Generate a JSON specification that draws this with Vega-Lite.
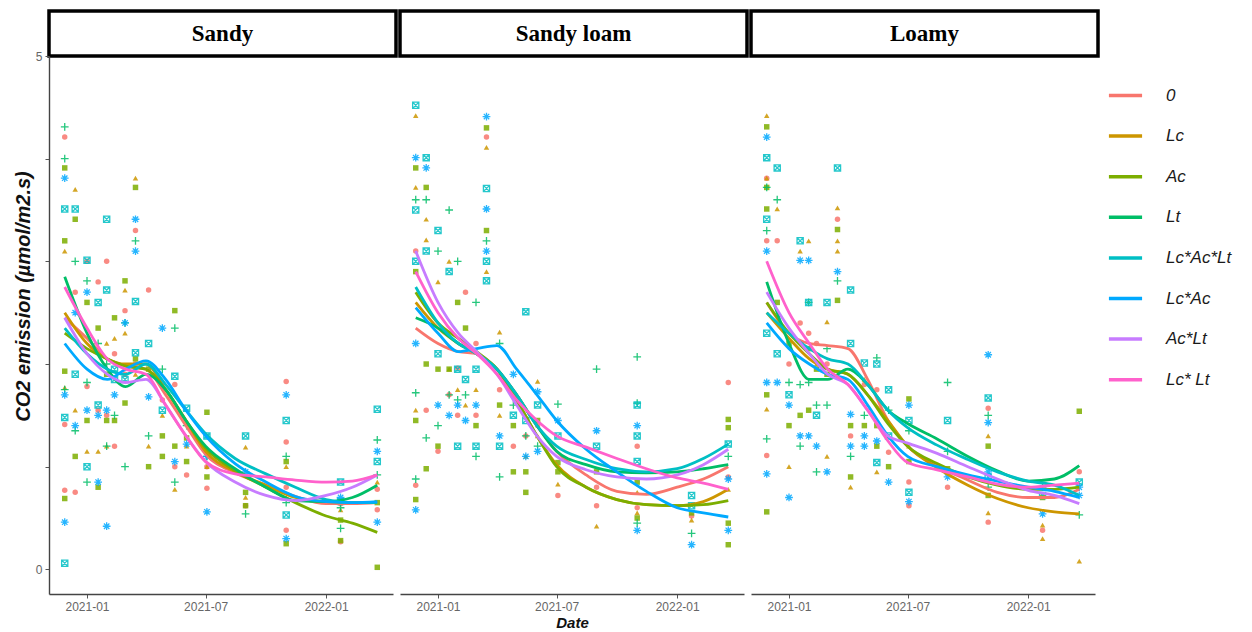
{
"$schema":"https://vega.github.io/schema/vega-lite/v6.json",
"background":"white",
"padding":{"top":9,"left":13,"right":4,"bottom":2},
"datasets":{
"pts":[
{"s":"S","t":"0","d":"2020-11-28","v":4.21},{"s":"S","t":"0","d":"2020-11-28","v":1.41},{"s":"S","t":"0","d":"2020-11-28","v":0.77},{"s":"S","t":"Lc","d":"2020-11-28","v":3.1},{"s":"S","t":"Lc","d":"2020-11-28","v":1.77},{"s":"S","t":"Ac","d":"2020-11-28","v":3.91},{"s":"S","t":"Ac","d":"2020-11-28","v":3.2},{"s":"S","t":"Ac","d":"2020-11-28","v":1.93},{"s":"S","t":"Ac","d":"2020-11-28","v":0.69},{"s":"S","t":"Lt","d":"2020-11-28","v":4.31},{"s":"S","t":"Lt","d":"2020-11-28","v":4.0},{"s":"S","t":"Lt","d":"2020-11-28","v":1.75},{"s":"S","t":"Lc*Ac*Lt","d":"2020-11-28","v":3.51},{"s":"S","t":"Lc*Ac*Lt","d":"2020-11-28","v":1.48},{"s":"S","t":"Lc*Ac*Lt","d":"2020-11-28","v":0.06},{"s":"S","t":"Lc*Ac","d":"2020-11-28","v":3.81},{"s":"S","t":"Lc*Ac","d":"2020-11-28","v":1.7},{"s":"S","t":"Lc*Ac","d":"2020-11-28","v":0.46},
{"s":"S","t":"0","d":"2020-12-14","v":2.7},{"s":"S","t":"0","d":"2020-12-14","v":0.75},{"s":"S","t":"Lc","d":"2020-12-14","v":3.7},{"s":"S","t":"Lc","d":"2020-12-14","v":1.55},{"s":"S","t":"Ac","d":"2020-12-14","v":3.41},{"s":"S","t":"Ac","d":"2020-12-14","v":1.1},{"s":"S","t":"Lt","d":"2020-12-14","v":3.0},{"s":"S","t":"Lt","d":"2020-12-14","v":1.35},{"s":"S","t":"Lc*Ac*Lt","d":"2020-12-14","v":3.51},{"s":"S","t":"Lc*Ac*Lt","d":"2020-12-14","v":1.9},{"s":"S","t":"Lc*Ac","d":"2020-12-14","v":2.5},{"s":"S","t":"Lc*Ac","d":"2020-12-14","v":1.4},
{"s":"S","t":"0","d":"2021-01-01","v":3.0},{"s":"S","t":"0","d":"2021-01-01","v":1.78},{"s":"S","t":"Lc","d":"2021-01-01","v":1.15},{"s":"S","t":"Ac","d":"2021-01-01","v":2.6},{"s":"S","t":"Ac","d":"2021-01-01","v":1.45},{"s":"S","t":"Lt","d":"2021-01-01","v":2.81},{"s":"S","t":"Lt","d":"2021-01-01","v":1.82},{"s":"S","t":"Lt","d":"2021-01-01","v":0.85},{"s":"S","t":"Lc*Ac*Lt","d":"2021-01-01","v":3.01},{"s":"S","t":"Lc*Ac*Lt","d":"2021-01-01","v":1.0},{"s":"S","t":"Lc*Ac","d":"2021-01-01","v":2.7},{"s":"S","t":"Lc*Ac","d":"2021-01-01","v":1.55},
{"s":"S","t":"0","d":"2021-01-18","v":2.8},{"s":"S","t":"0","d":"2021-01-18","v":1.55},{"s":"S","t":"Lc","d":"2021-01-18","v":1.15},{"s":"S","t":"Ac","d":"2021-01-18","v":2.35},{"s":"S","t":"Ac","d":"2021-01-18","v":0.8},{"s":"S","t":"Lt","d":"2021-01-18","v":2.2},{"s":"S","t":"Lc*Ac*Lt","d":"2021-01-18","v":2.6},{"s":"S","t":"Lc*Ac*Lt","d":"2021-01-18","v":1.6},{"s":"S","t":"Lc*Ac","d":"2021-01-18","v":1.5},{"s":"S","t":"Lc*Ac","d":"2021-01-18","v":0.85},
{"s":"S","t":"0","d":"2021-01-31","v":3.0},{"s":"S","t":"0","d":"2021-01-31","v":1.5},{"s":"S","t":"Lc","d":"2021-01-31","v":2.2},{"s":"S","t":"Lc","d":"2021-01-31","v":1.2},{"s":"S","t":"Ac","d":"2021-01-31","v":1.9},{"s":"S","t":"Ac","d":"2021-01-31","v":1.45},{"s":"S","t":"Lt","d":"2021-01-31","v":2.0},{"s":"S","t":"Lt","d":"2021-01-31","v":1.2},{"s":"S","t":"Lc*Ac*Lt","d":"2021-01-31","v":3.41},{"s":"S","t":"Lc*Ac*Lt","d":"2021-01-31","v":2.72},{"s":"S","t":"Lc*Ac","d":"2021-01-31","v":1.55},{"s":"S","t":"Lc*Ac","d":"2021-01-31","v":0.42},
{"s":"S","t":"0","d":"2021-02-12","v":2.1},{"s":"S","t":"0","d":"2021-02-12","v":1.2},{"s":"S","t":"Lc","d":"2021-02-12","v":2.25},{"s":"S","t":"Ac","d":"2021-02-12","v":2.45},{"s":"S","t":"Ac","d":"2021-02-12","v":1.45},{"s":"S","t":"Lt","d":"2021-02-12","v":1.5},{"s":"S","t":"Lc*Ac*Lt","d":"2021-02-12","v":1.95},{"s":"S","t":"Lc*Ac*Lt","d":"2021-02-12","v":1.85},{"s":"S","t":"Lc*Ac","d":"2021-02-12","v":1.7},
{"s":"S","t":"0","d":"2021-02-28","v":2.52},{"s":"S","t":"0","d":"2021-02-28","v":1.9},{"s":"S","t":"Lc","d":"2021-02-28","v":2.72},{"s":"S","t":"Lc","d":"2021-02-28","v":2.3},{"s":"S","t":"Ac","d":"2021-02-28","v":2.81},{"s":"S","t":"Ac","d":"2021-02-28","v":1.62},{"s":"S","t":"Lt","d":"2021-02-28","v":2.4},{"s":"S","t":"Lt","d":"2021-02-28","v":1.0},{"s":"S","t":"Lc*Ac*Lt","d":"2021-02-28","v":1.85},{"s":"S","t":"Lc*Ac","d":"2021-02-28","v":2.4},
{"s":"S","t":"0","d":"2021-03-16","v":3.3},{"s":"S","t":"0","d":"2021-03-16","v":2.0},{"s":"S","t":"Lc","d":"2021-03-16","v":3.81},{"s":"S","t":"Lc","d":"2021-03-16","v":1.9},{"s":"S","t":"Ac","d":"2021-03-16","v":3.72},{"s":"S","t":"Ac","d":"2021-03-16","v":2.05},{"s":"S","t":"Lt","d":"2021-03-16","v":3.2},{"s":"S","t":"Lc*Ac*Lt","d":"2021-03-16","v":2.61},{"s":"S","t":"Lc*Ac*Lt","d":"2021-03-16","v":2.11},{"s":"S","t":"Lc*Ac","d":"2021-03-16","v":3.41},{"s":"S","t":"Lc*Ac","d":"2021-03-16","v":3.1},
{"s":"S","t":"0","d":"2021-04-05","v":2.72},{"s":"S","t":"Lc","d":"2021-04-05","v":1.2},{"s":"S","t":"Ac","d":"2021-04-05","v":1.95},{"s":"S","t":"Ac","d":"2021-04-05","v":1.0},{"s":"S","t":"Lt","d":"2021-04-05","v":1.3},{"s":"S","t":"Lc*Ac*Lt","d":"2021-04-05","v":2.2},{"s":"S","t":"Lc*Ac","d":"2021-04-05","v":1.68},
{"s":"S","t":"0","d":"2021-04-26","v":1.65},{"s":"S","t":"Lc","d":"2021-04-26","v":1.5},{"s":"S","t":"Ac","d":"2021-04-26","v":1.3},{"s":"S","t":"Ac","d":"2021-04-26","v":1.1},{"s":"S","t":"Lt","d":"2021-04-26","v":1.95},{"s":"S","t":"Lc*Ac*Lt","d":"2021-04-26","v":1.55},{"s":"S","t":"Lc*Ac","d":"2021-04-26","v":2.35},
{"s":"S","t":"0","d":"2021-05-15","v":1.8},{"s":"S","t":"0","d":"2021-05-15","v":1.0},{"s":"S","t":"Lc","d":"2021-05-15","v":0.78},{"s":"S","t":"Ac","d":"2021-05-15","v":2.52},{"s":"S","t":"Ac","d":"2021-05-15","v":1.2},{"s":"S","t":"Lt","d":"2021-05-15","v":2.35},{"s":"S","t":"Lt","d":"2021-05-15","v":0.85},{"s":"S","t":"Lc*Ac*Lt","d":"2021-05-15","v":1.88},{"s":"S","t":"Lc*Ac","d":"2021-05-15","v":1.05},
{"s":"S","t":"0","d":"2021-06-02","v":0.92},{"s":"S","t":"Lc","d":"2021-06-02","v":1.2},{"s":"S","t":"Ac","d":"2021-06-02","v":1.28},{"s":"S","t":"Ac","d":"2021-06-02","v":1.05},{"s":"S","t":"Lt","d":"2021-06-02","v":1.4},{"s":"S","t":"Lc*Ac*Lt","d":"2021-06-02","v":1.57},{"s":"S","t":"Lc*Ac","d":"2021-06-02","v":1.22},
{"s":"S","t":"0","d":"2021-07-03","v":0.79},{"s":"S","t":"0","d":"2021-07-03","v":1.0},{"s":"S","t":"Lc","d":"2021-07-03","v":1.0},{"s":"S","t":"Ac","d":"2021-07-03","v":1.53},{"s":"S","t":"Ac","d":"2021-07-03","v":0.9},{"s":"S","t":"Lt","d":"2021-07-03","v":1.1},{"s":"S","t":"Lc*Ac*Lt","d":"2021-07-03","v":1.3},{"s":"S","t":"Lc*Ac","d":"2021-07-03","v":0.56},{"s":"S","t":"Lc*Ac","d":"2021-07-03","v":1.1},
{"s":"S","t":"0","d":"2021-08-31","v":0.62},{"s":"S","t":"Lc","d":"2021-08-31","v":1.19},{"s":"S","t":"Lc","d":"2021-08-31","v":0.7},{"s":"S","t":"Ac","d":"2021-08-31","v":0.75},{"s":"S","t":"Ac","d":"2021-08-31","v":0.62},{"s":"S","t":"Lt","d":"2021-08-31","v":0.54},{"s":"S","t":"Lc*Ac*Lt","d":"2021-08-31","v":1.3},{"s":"S","t":"Lc*Ac","d":"2021-08-31","v":0.95},
{"s":"S","t":"0","d":"2021-11-01","v":1.83},{"s":"S","t":"0","d":"2021-11-01","v":1.24},{"s":"S","t":"0","d":"2021-11-01","v":0.8},{"s":"S","t":"0","d":"2021-11-01","v":0.38},{"s":"S","t":"Lc","d":"2021-11-01","v":1.0},{"s":"S","t":"Lc","d":"2021-11-01","v":0.7},{"s":"S","t":"Ac","d":"2021-11-01","v":1.05},{"s":"S","t":"Ac","d":"2021-11-01","v":0.25},{"s":"S","t":"Lt","d":"2021-11-01","v":1.1},{"s":"S","t":"Lt","d":"2021-11-01","v":0.65},{"s":"S","t":"Lc*Ac*Lt","d":"2021-11-01","v":1.45},{"s":"S","t":"Lc*Ac*Lt","d":"2021-11-01","v":0.53},{"s":"S","t":"Lc*Ac","d":"2021-11-01","v":1.7},{"s":"S","t":"Lc*Ac","d":"2021-11-01","v":0.3},
{"s":"S","t":"0","d":"2022-01-23","v":0.64},{"s":"S","t":"0","d":"2022-01-23","v":0.27},{"s":"S","t":"Lc","d":"2022-01-23","v":0.58},{"s":"S","t":"Ac","d":"2022-01-23","v":0.48},{"s":"S","t":"Ac","d":"2022-01-23","v":0.28},{"s":"S","t":"Lt","d":"2022-01-23","v":0.6},{"s":"S","t":"Lt","d":"2022-01-23","v":0.4},{"s":"S","t":"Lc*Ac*Lt","d":"2022-01-23","v":0.85},{"s":"S","t":"Lc*Ac*Lt","d":"2022-01-23","v":0.66},{"s":"S","t":"Lc*Ac","d":"2022-01-23","v":0.7},
{"s":"S","t":"0","d":"2022-03-20","v":0.78},{"s":"S","t":"0","d":"2022-03-20","v":0.58},{"s":"S","t":"Lc","d":"2022-03-20","v":0.85},{"s":"S","t":"Ac","d":"2022-03-20","v":0.65},{"s":"S","t":"Ac","d":"2022-03-20","v":0.02},{"s":"S","t":"Lt","d":"2022-03-20","v":1.26},{"s":"S","t":"Lt","d":"2022-03-20","v":0.92},{"s":"S","t":"Lc*Ac*Lt","d":"2022-03-20","v":1.56},{"s":"S","t":"Lc*Ac*Lt","d":"2022-03-20","v":1.05},{"s":"S","t":"Lc*Ac","d":"2022-03-20","v":1.15},{"s":"S","t":"Lc*Ac","d":"2022-03-20","v":0.46},

{"s":"SL","t":"0","d":"2020-11-28","v":3.1},{"s":"SL","t":"0","d":"2020-11-28","v":0.82},{"s":"SL","t":"Lc","d":"2020-11-28","v":4.42},{"s":"SL","t":"Lc","d":"2020-11-28","v":3.72},{"s":"SL","t":"Lc","d":"2020-11-28","v":1.55},{"s":"SL","t":"Ac","d":"2020-11-28","v":3.91},{"s":"SL","t":"Ac","d":"2020-11-28","v":2.9},{"s":"SL","t":"Ac","d":"2020-11-28","v":1.45},{"s":"SL","t":"Ac","d":"2020-11-28","v":0.68},{"s":"SL","t":"Lt","d":"2020-11-28","v":3.6},{"s":"SL","t":"Lt","d":"2020-11-28","v":1.72},{"s":"SL","t":"Lt","d":"2020-11-28","v":0.88},{"s":"SL","t":"Lc*Ac*Lt","d":"2020-11-28","v":4.52},{"s":"SL","t":"Lc*Ac*Lt","d":"2020-11-28","v":3.5},{"s":"SL","t":"Lc*Ac*Lt","d":"2020-11-28","v":3.0},{"s":"SL","t":"Lc*Ac","d":"2020-11-28","v":4.01},{"s":"SL","t":"Lc*Ac","d":"2020-11-28","v":2.2},{"s":"SL","t":"Lc*Ac","d":"2020-11-28","v":0.58},
{"s":"SL","t":"0","d":"2020-12-14","v":1.55},{"s":"SL","t":"Lc","d":"2020-12-14","v":3.41},{"s":"SL","t":"Lc","d":"2020-12-14","v":3.21},{"s":"SL","t":"Ac","d":"2020-12-14","v":3.72},{"s":"SL","t":"Ac","d":"2020-12-14","v":2.0},{"s":"SL","t":"Ac","d":"2020-12-14","v":0.98},{"s":"SL","t":"Lt","d":"2020-12-14","v":3.6},{"s":"SL","t":"Lt","d":"2020-12-14","v":1.28},{"s":"SL","t":"Lc*Ac*Lt","d":"2020-12-14","v":4.01},{"s":"SL","t":"Lc*Ac*Lt","d":"2020-12-14","v":3.1},{"s":"SL","t":"Lc*Ac","d":"2020-12-14","v":3.91},
{"s":"SL","t":"0","d":"2021-01-01","v":1.15},{"s":"SL","t":"Lc","d":"2021-01-01","v":2.8},{"s":"SL","t":"Ac","d":"2021-01-01","v":1.95},{"s":"SL","t":"Ac","d":"2021-01-01","v":1.2},{"s":"SL","t":"Lt","d":"2021-01-01","v":3.1},{"s":"SL","t":"Lt","d":"2021-01-01","v":1.4},{"s":"SL","t":"Lc*Ac*Lt","d":"2021-01-01","v":3.3},{"s":"SL","t":"Lc*Ac*Lt","d":"2021-01-01","v":2.1},{"s":"SL","t":"Lc*Ac","d":"2021-01-01","v":1.6},
{"s":"SL","t":"0","d":"2021-01-18","v":1.7},{"s":"SL","t":"Lc","d":"2021-01-18","v":3.0},{"s":"SL","t":"Lc","d":"2021-01-18","v":1.95},{"s":"SL","t":"Ac","d":"2021-01-18","v":1.95},{"s":"SL","t":"Lt","d":"2021-01-18","v":3.5},{"s":"SL","t":"Lt","d":"2021-01-18","v":1.7},{"s":"SL","t":"Lc*Ac*Lt","d":"2021-01-18","v":2.9},{"s":"SL","t":"Lc*Ac","d":"2021-01-18","v":1.5},
{"s":"SL","t":"0","d":"2021-01-31","v":1.96},{"s":"SL","t":"0","d":"2021-01-31","v":1.5},{"s":"SL","t":"Lc","d":"2021-01-31","v":1.75},{"s":"SL","t":"Ac","d":"2021-01-31","v":2.6},{"s":"SL","t":"Lt","d":"2021-01-31","v":3.0},{"s":"SL","t":"Lt","d":"2021-01-31","v":1.65},{"s":"SL","t":"Lc*Ac*Lt","d":"2021-01-31","v":1.95},{"s":"SL","t":"Lc*Ac*Lt","d":"2021-01-31","v":1.2},{"s":"SL","t":"Lc*Ac","d":"2021-01-31","v":1.6},
{"s":"SL","t":"0","d":"2021-02-12","v":2.7},{"s":"SL","t":"Lc","d":"2021-02-12","v":1.6},{"s":"SL","t":"Ac","d":"2021-02-12","v":2.35},{"s":"SL","t":"Lt","d":"2021-02-12","v":1.7},{"s":"SL","t":"Lc*Ac*Lt","d":"2021-02-12","v":1.85},{"s":"SL","t":"Lc*Ac","d":"2021-02-12","v":1.45},
{"s":"SL","t":"0","d":"2021-02-28","v":2.2},{"s":"SL","t":"0","d":"2021-02-28","v":1.5},{"s":"SL","t":"Lc","d":"2021-02-28","v":1.75},{"s":"SL","t":"Ac","d":"2021-02-28","v":1.4},{"s":"SL","t":"Lt","d":"2021-02-28","v":2.6},{"s":"SL","t":"Lt","d":"2021-02-28","v":1.1},{"s":"SL","t":"Lc*Ac*Lt","d":"2021-02-28","v":1.95},{"s":"SL","t":"Lc*Ac*Lt","d":"2021-02-28","v":1.2},{"s":"SL","t":"Lc*Ac","d":"2021-02-28","v":1.6},
{"s":"SL","t":"0","d":"2021-03-16","v":4.21},{"s":"SL","t":"Lc","d":"2021-03-16","v":4.11},{"s":"SL","t":"Lc","d":"2021-03-16","v":2.9},{"s":"SL","t":"Ac","d":"2021-03-16","v":4.3},{"s":"SL","t":"Ac","d":"2021-03-16","v":3.3},{"s":"SL","t":"Lt","d":"2021-03-16","v":3.2},{"s":"SL","t":"Lc*Ac*Lt","d":"2021-03-16","v":3.71},{"s":"SL","t":"Lc*Ac*Lt","d":"2021-03-16","v":3.0},{"s":"SL","t":"Lc*Ac*Lt","d":"2021-03-16","v":2.81},{"s":"SL","t":"Lc*Ac","d":"2021-03-16","v":4.41},{"s":"SL","t":"Lc*Ac","d":"2021-03-16","v":3.51},{"s":"SL","t":"Lc*Ac","d":"2021-03-16","v":3.1},
{"s":"SL","t":"0","d":"2021-04-05","v":1.75},{"s":"SL","t":"Lc","d":"2021-04-05","v":2.31},{"s":"SL","t":"Lc","d":"2021-04-05","v":1.5},{"s":"SL","t":"Ac","d":"2021-04-05","v":1.6},{"s":"SL","t":"Lt","d":"2021-04-05","v":2.2},{"s":"SL","t":"Lt","d":"2021-04-05","v":0.9},{"s":"SL","t":"Lc*Ac*Lt","d":"2021-04-05","v":1.2},{"s":"SL","t":"Lc*Ac","d":"2021-04-05","v":1.3},
{"s":"SL","t":"0","d":"2021-04-26","v":1.2},{"s":"SL","t":"Lc","d":"2021-04-26","v":1.7},{"s":"SL","t":"Ac","d":"2021-04-26","v":1.4},{"s":"SL","t":"Ac","d":"2021-04-26","v":0.95},{"s":"SL","t":"Lt","d":"2021-04-26","v":1.6},{"s":"SL","t":"Lc*Ac*Lt","d":"2021-04-26","v":1.5},{"s":"SL","t":"Lc*Ac","d":"2021-04-26","v":1.9},
{"s":"SL","t":"0","d":"2021-05-15","v":1.3},{"s":"SL","t":"Lc","d":"2021-05-15","v":1.1},{"s":"SL","t":"Ac","d":"2021-05-15","v":0.95},{"s":"SL","t":"Ac","d":"2021-05-15","v":0.75},{"s":"SL","t":"Lt","d":"2021-05-15","v":1.3},{"s":"SL","t":"Lc*Ac*Lt","d":"2021-05-15","v":2.51},{"s":"SL","t":"Lc*Ac*Lt","d":"2021-05-15","v":1.45},{"s":"SL","t":"Lc*Ac","d":"2021-05-15","v":1.1},
{"s":"SL","t":"0","d":"2021-06-02","v":1.4},{"s":"SL","t":"Lc","d":"2021-06-02","v":1.83},{"s":"SL","t":"Lc","d":"2021-06-02","v":1.3},{"s":"SL","t":"Ac","d":"2021-06-02","v":1.45},{"s":"SL","t":"Lt","d":"2021-06-02","v":1.2},{"s":"SL","t":"Lc*Ac*Lt","d":"2021-06-02","v":1.6},{"s":"SL","t":"Lc*Ac","d":"2021-06-02","v":1.73},{"s":"SL","t":"Lc*Ac","d":"2021-06-02","v":1.15},
{"s":"SL","t":"0","d":"2021-07-03","v":0.72},{"s":"SL","t":"Lc","d":"2021-07-03","v":0.83},{"s":"SL","t":"Ac","d":"2021-07-03","v":1.04},{"s":"SL","t":"Ac","d":"2021-07-03","v":0.95},{"s":"SL","t":"Lt","d":"2021-07-03","v":1.61},{"s":"SL","t":"Lc*Ac*Lt","d":"2021-07-03","v":1.3},{"s":"SL","t":"Lc*Ac","d":"2021-07-03","v":1.45},
{"s":"SL","t":"0","d":"2021-08-31","v":0.8},{"s":"SL","t":"0","d":"2021-08-31","v":0.62},{"s":"SL","t":"Lc","d":"2021-08-31","v":0.42},{"s":"SL","t":"Ac","d":"2021-08-31","v":0.95},{"s":"SL","t":"Lt","d":"2021-08-31","v":1.95},{"s":"SL","t":"Lc*Ac*Lt","d":"2021-08-31","v":1.2},{"s":"SL","t":"Lc*Ac","d":"2021-08-31","v":1.35},
{"s":"SL","t":"0","d":"2021-11-01","v":1.2},{"s":"SL","t":"0","d":"2021-11-01","v":0.6},{"s":"SL","t":"Lc","d":"2021-11-01","v":0.75},{"s":"SL","t":"Lc","d":"2021-11-01","v":0.55},{"s":"SL","t":"Ac","d":"2021-11-01","v":0.85},{"s":"SL","t":"Ac","d":"2021-11-01","v":0.5},{"s":"SL","t":"Lt","d":"2021-11-01","v":2.07},{"s":"SL","t":"Lt","d":"2021-11-01","v":1.62},{"s":"SL","t":"Lt","d":"2021-11-01","v":0.45},{"s":"SL","t":"Lc*Ac*Lt","d":"2021-11-01","v":1.6},{"s":"SL","t":"Lc*Ac*Lt","d":"2021-11-01","v":1.3},{"s":"SL","t":"Lc*Ac*Lt","d":"2021-11-01","v":1.05},{"s":"SL","t":"Lc*Ac","d":"2021-11-01","v":1.4},{"s":"SL","t":"Lc*Ac","d":"2021-11-01","v":0.38},
{"s":"SL","t":"0","d":"2022-01-23","v":0.52},{"s":"SL","t":"Lc","d":"2022-01-23","v":0.48},{"s":"SL","t":"Ac","d":"2022-01-23","v":0.55},{"s":"SL","t":"Lt","d":"2022-01-23","v":0.35},{"s":"SL","t":"Lc*Ac*Lt","d":"2022-01-23","v":0.72},{"s":"SL","t":"Lc*Ac*Lt","d":"2022-01-23","v":0.62},{"s":"SL","t":"Lc*Ac","d":"2022-01-23","v":0.24},
{"s":"SL","t":"0","d":"2022-03-20","v":1.82},{"s":"SL","t":"0","d":"2022-03-20","v":0.9},{"s":"SL","t":"Lc","d":"2022-03-20","v":0.78},{"s":"SL","t":"Ac","d":"2022-03-20","v":1.46},{"s":"SL","t":"Ac","d":"2022-03-20","v":1.38},{"s":"SL","t":"Ac","d":"2022-03-20","v":0.45},{"s":"SL","t":"Ac","d":"2022-03-20","v":0.24},{"s":"SL","t":"Lt","d":"2022-03-20","v":1.1},{"s":"SL","t":"Lc*Ac*Lt","d":"2022-03-20","v":1.22},{"s":"SL","t":"Lc*Ac","d":"2022-03-20","v":0.88},{"s":"SL","t":"Lc*Ac","d":"2022-03-20","v":0.38},

{"s":"L","t":"0","d":"2020-11-28","v":3.81},{"s":"L","t":"0","d":"2020-11-28","v":3.2},{"s":"L","t":"0","d":"2020-11-28","v":1.11},{"s":"L","t":"Lc","d":"2020-11-28","v":4.42},{"s":"L","t":"Lc","d":"2020-11-28","v":3.81},{"s":"L","t":"Lc","d":"2020-11-28","v":1.56},{"s":"L","t":"Ac","d":"2020-11-28","v":4.31},{"s":"L","t":"Ac","d":"2020-11-28","v":3.72},{"s":"L","t":"Ac","d":"2020-11-28","v":3.51},{"s":"L","t":"Ac","d":"2020-11-28","v":1.7},{"s":"L","t":"Ac","d":"2020-11-28","v":0.56},{"s":"L","t":"Lt","d":"2020-11-28","v":3.72},{"s":"L","t":"Lt","d":"2020-11-28","v":3.3},{"s":"L","t":"Lt","d":"2020-11-28","v":1.27},{"s":"L","t":"Lc*Ac*Lt","d":"2020-11-28","v":4.01},{"s":"L","t":"Lc*Ac*Lt","d":"2020-11-28","v":3.41},{"s":"L","t":"Lc*Ac*Lt","d":"2020-11-28","v":2.3},{"s":"L","t":"Lc*Ac","d":"2020-11-28","v":4.21},{"s":"L","t":"Lc*Ac","d":"2020-11-28","v":3.1},{"s":"L","t":"Lc*Ac","d":"2020-11-28","v":1.82},{"s":"L","t":"Lc*Ac","d":"2020-11-28","v":0.93},
{"s":"L","t":"0","d":"2020-12-14","v":3.2},{"s":"L","t":"Lc","d":"2020-12-14","v":3.51},{"s":"L","t":"Ac","d":"2020-12-14","v":2.6},{"s":"L","t":"Lt","d":"2020-12-14","v":3.6},{"s":"L","t":"Lc*Ac*Lt","d":"2020-12-14","v":3.91},{"s":"L","t":"Lc*Ac*Lt","d":"2020-12-14","v":2.1},{"s":"L","t":"Lc*Ac","d":"2020-12-14","v":1.82},
{"s":"L","t":"0","d":"2021-01-01","v":2.0},{"s":"L","t":"Lc","d":"2021-01-01","v":1.0},{"s":"L","t":"Ac","d":"2021-01-01","v":2.2},{"s":"L","t":"Ac","d":"2021-01-01","v":1.4},{"s":"L","t":"Lt","d":"2021-01-01","v":1.82},{"s":"L","t":"Lc*Ac*Lt","d":"2021-01-01","v":1.7},{"s":"L","t":"Lc*Ac","d":"2021-01-01","v":1.6},{"s":"L","t":"Lc*Ac","d":"2021-01-01","v":0.7},
{"s":"L","t":"0","d":"2021-01-18","v":2.4},{"s":"L","t":"Lc","d":"2021-01-18","v":3.1},{"s":"L","t":"Ac","d":"2021-01-18","v":1.5},{"s":"L","t":"Lt","d":"2021-01-18","v":1.8},{"s":"L","t":"Lt","d":"2021-01-18","v":1.2},{"s":"L","t":"Lc*Ac*Lt","d":"2021-01-18","v":3.2},{"s":"L","t":"Lc*Ac","d":"2021-01-18","v":3.01},{"s":"L","t":"Lc*Ac","d":"2021-01-18","v":1.3},
{"s":"L","t":"0","d":"2021-01-31","v":2.3},{"s":"L","t":"Lc","d":"2021-01-31","v":3.2},{"s":"L","t":"Ac","d":"2021-01-31","v":2.15},{"s":"L","t":"Ac","d":"2021-01-31","v":1.55},{"s":"L","t":"Lt","d":"2021-01-31","v":2.6},{"s":"L","t":"Lt","d":"2021-01-31","v":1.82},{"s":"L","t":"Lc*Ac*Lt","d":"2021-01-31","v":2.6},{"s":"L","t":"Lc*Ac","d":"2021-01-31","v":3.01},{"s":"L","t":"Lc*Ac","d":"2021-01-31","v":1.3},
{"s":"L","t":"0","d":"2021-02-12","v":2.2},{"s":"L","t":"Lc","d":"2021-02-12","v":2.0},{"s":"L","t":"Ac","d":"2021-02-12","v":1.95},{"s":"L","t":"Lt","d":"2021-02-12","v":1.6},{"s":"L","t":"Lt","d":"2021-02-12","v":0.95},{"s":"L","t":"Lc*Ac*Lt","d":"2021-02-12","v":1.5},{"s":"L","t":"Lc*Ac","d":"2021-02-12","v":1.2},
{"s":"L","t":"0","d":"2021-02-28","v":2.0},{"s":"L","t":"Lc","d":"2021-02-28","v":2.41},{"s":"L","t":"Lc","d":"2021-02-28","v":1.1},{"s":"L","t":"Ac","d":"2021-02-28","v":1.9},{"s":"L","t":"Lt","d":"2021-02-28","v":2.15},{"s":"L","t":"Lt","d":"2021-02-28","v":1.6},{"s":"L","t":"Lc*Ac*Lt","d":"2021-02-28","v":2.6},{"s":"L","t":"Lc*Ac","d":"2021-02-28","v":0.95},
{"s":"L","t":"0","d":"2021-03-16","v":3.41},{"s":"L","t":"Lc","d":"2021-03-16","v":3.52},{"s":"L","t":"Lc","d":"2021-03-16","v":3.2},{"s":"L","t":"Lc","d":"2021-03-16","v":3.1},{"s":"L","t":"Ac","d":"2021-03-16","v":3.31},{"s":"L","t":"Ac","d":"2021-03-16","v":2.62},{"s":"L","t":"Lt","d":"2021-03-16","v":2.81},{"s":"L","t":"Lc*Ac*Lt","d":"2021-03-16","v":3.91},{"s":"L","t":"Lc*Ac","d":"2021-03-16","v":2.9},
{"s":"L","t":"0","d":"2021-04-05","v":1.3},{"s":"L","t":"Lc","d":"2021-04-05","v":0.8},{"s":"L","t":"Ac","d":"2021-04-05","v":1.4},{"s":"L","t":"Ac","d":"2021-04-05","v":0.9},{"s":"L","t":"Lt","d":"2021-04-05","v":1.1},{"s":"L","t":"Lc*Ac*Lt","d":"2021-04-05","v":2.72},{"s":"L","t":"Lc*Ac*Lt","d":"2021-04-05","v":2.2},{"s":"L","t":"Lc*Ac","d":"2021-04-05","v":1.51},{"s":"L","t":"Lc*Ac","d":"2021-04-05","v":1.2},
{"s":"L","t":"0","d":"2021-04-26","v":1.8},{"s":"L","t":"Lc","d":"2021-04-26","v":1.85},{"s":"L","t":"Ac","d":"2021-04-26","v":1.4},{"s":"L","t":"Lt","d":"2021-04-26","v":1.5},{"s":"L","t":"Lc*Ac*Lt","d":"2021-04-26","v":2.01},{"s":"L","t":"Lc*Ac","d":"2021-04-26","v":1.3},{"s":"L","t":"Lc*Ac","d":"2021-04-26","v":1.2},
{"s":"L","t":"0","d":"2021-05-15","v":1.75},{"s":"L","t":"Lc","d":"2021-05-15","v":0.95},{"s":"L","t":"Ac","d":"2021-05-15","v":1.4},{"s":"L","t":"Ac","d":"2021-05-15","v":1.2},{"s":"L","t":"Lt","d":"2021-05-15","v":2.06},{"s":"L","t":"Lc*Ac*Lt","d":"2021-05-15","v":2.0},{"s":"L","t":"Lc*Ac*Lt","d":"2021-05-15","v":1.04},{"s":"L","t":"Lc*Ac","d":"2021-05-15","v":1.25},
{"s":"L","t":"0","d":"2021-06-02","v":1.14},{"s":"L","t":"Lc","d":"2021-06-02","v":1.3},{"s":"L","t":"Ac","d":"2021-06-02","v":1.0},{"s":"L","t":"Lt","d":"2021-06-02","v":1.55},{"s":"L","t":"Lc*Ac*Lt","d":"2021-06-02","v":1.75},{"s":"L","t":"Lc*Ac*Lt","d":"2021-06-02","v":1.3},{"s":"L","t":"Lc*Ac","d":"2021-06-02","v":0.85},
{"s":"L","t":"0","d":"2021-07-03","v":0.85},{"s":"L","t":"0","d":"2021-07-03","v":0.62},{"s":"L","t":"Lc","d":"2021-07-03","v":1.2},{"s":"L","t":"Ac","d":"2021-07-03","v":1.66},{"s":"L","t":"Ac","d":"2021-07-03","v":1.05},{"s":"L","t":"Lt","d":"2021-07-03","v":1.35},{"s":"L","t":"Lc*Ac*Lt","d":"2021-07-03","v":1.45},{"s":"L","t":"Lc*Ac*Lt","d":"2021-07-03","v":0.75},{"s":"L","t":"Lc*Ac","d":"2021-07-03","v":1.6},{"s":"L","t":"Lc*Ac","d":"2021-07-03","v":0.66},
{"s":"L","t":"0","d":"2021-08-31","v":0.8},{"s":"L","t":"Lc","d":"2021-08-31","v":0.95},{"s":"L","t":"Ac","d":"2021-08-31","v":0.98},{"s":"L","t":"Lt","d":"2021-08-31","v":1.82},{"s":"L","t":"Lt","d":"2021-08-31","v":1.15},{"s":"L","t":"Lc*Ac*Lt","d":"2021-08-31","v":1.45},{"s":"L","t":"Lc*Ac","d":"2021-08-31","v":0.9},
{"s":"L","t":"0","d":"2021-11-01","v":1.57},{"s":"L","t":"0","d":"2021-11-01","v":0.46},{"s":"L","t":"Lc","d":"2021-11-01","v":1.3},{"s":"L","t":"Lc","d":"2021-11-01","v":0.55},{"s":"L","t":"Ac","d":"2021-11-01","v":1.2},{"s":"L","t":"Ac","d":"2021-11-01","v":0.72},{"s":"L","t":"Lt","d":"2021-11-01","v":1.5},{"s":"L","t":"Lt","d":"2021-11-01","v":0.8},{"s":"L","t":"Lc*Ac*Lt","d":"2021-11-01","v":1.67},{"s":"L","t":"Lc*Ac*Lt","d":"2021-11-01","v":0.9},{"s":"L","t":"Lc*Ac","d":"2021-11-01","v":2.09},{"s":"L","t":"Lc*Ac","d":"2021-11-01","v":1.43},{"s":"L","t":"Lc*Ac","d":"2021-11-01","v":0.95},
{"s":"L","t":"0","d":"2022-01-23","v":0.38},{"s":"L","t":"Lc","d":"2022-01-23","v":0.43},{"s":"L","t":"Lc","d":"2022-01-23","v":0.3},{"s":"L","t":"Ac","d":"2022-01-23","v":0.7},{"s":"L","t":"Lt","d":"2022-01-23","v":0.8},{"s":"L","t":"Lc*Ac*Lt","d":"2022-01-23","v":0.72},{"s":"L","t":"Lc*Ac","d":"2022-01-23","v":0.54},
{"s":"L","t":"0","d":"2022-03-20","v":0.95},{"s":"L","t":"Lc","d":"2022-03-20","v":0.08},{"s":"L","t":"Ac","d":"2022-03-20","v":1.54},{"s":"L","t":"Lt","d":"2022-03-20","v":0.53},{"s":"L","t":"Lc*Ac*Lt","d":"2022-03-20","v":0.85},{"s":"L","t":"Lc*Ac","d":"2022-03-20","v":0.8},{"s":"L","t":"Lc*Ac","d":"2022-03-20","v":0.72}
],
"fit":[
{"s":"S","t":"0","d":"2020-11-28","v":2.45},{"s":"S","t":"0","d":"2021-01-01","v":2.25},{"s":"S","t":"0","d":"2021-02-01","v":2.05},{"s":"S","t":"0","d":"2021-03-01","v":1.98},{"s":"S","t":"0","d":"2021-04-01","v":1.95},{"s":"S","t":"0","d":"2021-05-01","v":1.7},{"s":"S","t":"0","d":"2021-06-01","v":1.4},{"s":"S","t":"0","d":"2021-07-01","v":1.12},{"s":"S","t":"0","d":"2021-08-15","v":0.94},{"s":"S","t":"0","d":"2021-10-01","v":0.82},{"s":"S","t":"0","d":"2021-11-15","v":0.71},{"s":"S","t":"0","d":"2022-01-01","v":0.64},{"s":"S","t":"0","d":"2022-02-10","v":0.64},{"s":"S","t":"0","d":"2022-03-20","v":0.65},
{"s":"S","t":"Lc","d":"2020-11-28","v":2.5},{"s":"S","t":"Lc","d":"2021-01-01","v":2.2},{"s":"S","t":"Lc","d":"2021-02-01","v":2.05},{"s":"S","t":"Lc","d":"2021-03-01","v":2.0},{"s":"S","t":"Lc","d":"2021-04-01","v":2.0},{"s":"S","t":"Lc","d":"2021-05-01","v":1.75},{"s":"S","t":"Lc","d":"2021-06-01","v":1.45},{"s":"S","t":"Lc","d":"2021-07-01","v":1.15},{"s":"S","t":"Lc","d":"2021-08-15","v":0.95},{"s":"S","t":"Lc","d":"2021-10-01","v":0.82},{"s":"S","t":"Lc","d":"2021-11-15","v":0.7},{"s":"S","t":"Lc","d":"2022-01-01","v":0.66},{"s":"S","t":"Lc","d":"2022-02-10","v":0.65},{"s":"S","t":"Lc","d":"2022-03-20","v":0.65},
{"s":"S","t":"Ac","d":"2020-11-28","v":2.3},{"s":"S","t":"Ac","d":"2021-01-01","v":2.15},{"s":"S","t":"Ac","d":"2021-02-01","v":2.05},{"s":"S","t":"Ac","d":"2021-03-01","v":1.98},{"s":"S","t":"Ac","d":"2021-04-01","v":1.95},{"s":"S","t":"Ac","d":"2021-05-01","v":1.75},{"s":"S","t":"Ac","d":"2021-06-01","v":1.45},{"s":"S","t":"Ac","d":"2021-07-01","v":1.18},{"s":"S","t":"Ac","d":"2021-08-15","v":0.96},{"s":"S","t":"Ac","d":"2021-10-01","v":0.8},{"s":"S","t":"Ac","d":"2021-11-15","v":0.65},{"s":"S","t":"Ac","d":"2022-01-01","v":0.52},{"s":"S","t":"Ac","d":"2022-02-10","v":0.45},{"s":"S","t":"Ac","d":"2022-03-20","v":0.36},
{"s":"S","t":"Lt","d":"2020-11-28","v":2.85},{"s":"S","t":"Lt","d":"2021-01-01","v":2.3},{"s":"S","t":"Lt","d":"2021-02-01","v":1.95},{"s":"S","t":"Lt","d":"2021-03-01","v":1.78},{"s":"S","t":"Lt","d":"2021-04-01","v":1.9},{"s":"S","t":"Lt","d":"2021-05-01","v":1.75},{"s":"S","t":"Lt","d":"2021-06-01","v":1.45},{"s":"S","t":"Lt","d":"2021-07-01","v":1.2},{"s":"S","t":"Lt","d":"2021-08-15","v":0.98},{"s":"S","t":"Lt","d":"2021-10-01","v":0.8},{"s":"S","t":"Lt","d":"2021-11-15","v":0.67},{"s":"S","t":"Lt","d":"2022-01-01","v":0.66},{"s":"S","t":"Lt","d":"2022-02-10","v":0.7},{"s":"S","t":"Lt","d":"2022-03-20","v":0.82},
{"s":"S","t":"Lc*Ac*Lt","d":"2020-11-28","v":2.35},{"s":"S","t":"Lc*Ac*Lt","d":"2021-01-01","v":2.1},{"s":"S","t":"Lc*Ac*Lt","d":"2021-02-01","v":1.95},{"s":"S","t":"Lc*Ac*Lt","d":"2021-03-01","v":1.9},{"s":"S","t":"Lc*Ac*Lt","d":"2021-04-01","v":2.0},{"s":"S","t":"Lc*Ac*Lt","d":"2021-05-01","v":1.8},{"s":"S","t":"Lc*Ac*Lt","d":"2021-06-01","v":1.55},{"s":"S","t":"Lc*Ac*Lt","d":"2021-07-01","v":1.32},{"s":"S","t":"Lc*Ac*Lt","d":"2021-08-15","v":1.08},{"s":"S","t":"Lc*Ac*Lt","d":"2021-10-01","v":0.93},{"s":"S","t":"Lc*Ac*Lt","d":"2021-11-15","v":0.8},{"s":"S","t":"Lc*Ac*Lt","d":"2022-01-01","v":0.68},{"s":"S","t":"Lc*Ac*Lt","d":"2022-02-10","v":0.65},{"s":"S","t":"Lc*Ac*Lt","d":"2022-03-20","v":0.65},
{"s":"S","t":"Lc*Ac","d":"2020-11-28","v":2.2},{"s":"S","t":"Lc*Ac","d":"2021-01-01","v":1.95},{"s":"S","t":"Lc*Ac","d":"2021-02-01","v":1.85},{"s":"S","t":"Lc*Ac","d":"2021-03-01","v":1.95},{"s":"S","t":"Lc*Ac","d":"2021-04-01","v":2.03},{"s":"S","t":"Lc*Ac","d":"2021-05-01","v":1.85},{"s":"S","t":"Lc*Ac","d":"2021-06-01","v":1.55},{"s":"S","t":"Lc*Ac","d":"2021-07-01","v":1.3},{"s":"S","t":"Lc*Ac","d":"2021-08-15","v":1.03},{"s":"S","t":"Lc*Ac","d":"2021-10-01","v":0.85},{"s":"S","t":"Lc*Ac","d":"2021-11-15","v":0.71},{"s":"S","t":"Lc*Ac","d":"2022-01-01","v":0.66},{"s":"S","t":"Lc*Ac","d":"2022-02-10","v":0.65},{"s":"S","t":"Lc*Ac","d":"2022-03-20","v":0.66},
{"s":"S","t":"Ac*Lt","d":"2020-11-28","v":2.45},{"s":"S","t":"Ac*Lt","d":"2021-01-01","v":2.1},{"s":"S","t":"Ac*Lt","d":"2021-02-01","v":1.9},{"s":"S","t":"Ac*Lt","d":"2021-03-01","v":1.82},{"s":"S","t":"Ac*Lt","d":"2021-04-01","v":1.85},{"s":"S","t":"Ac*Lt","d":"2021-05-01","v":1.6},{"s":"S","t":"Ac*Lt","d":"2021-06-01","v":1.3},{"s":"S","t":"Ac*Lt","d":"2021-07-01","v":1.05},{"s":"S","t":"Ac*Lt","d":"2021-08-15","v":0.85},{"s":"S","t":"Ac*Lt","d":"2021-10-01","v":0.72},{"s":"S","t":"Ac*Lt","d":"2021-11-15","v":0.67},{"s":"S","t":"Ac*Lt","d":"2022-01-01","v":0.72},{"s":"S","t":"Ac*Lt","d":"2022-02-10","v":0.8},{"s":"S","t":"Ac*Lt","d":"2022-03-20","v":0.92},
{"s":"S","t":"Lc* Lt","d":"2020-11-28","v":2.75},{"s":"S","t":"Lc* Lt","d":"2021-01-01","v":2.35},{"s":"S","t":"Lc* Lt","d":"2021-02-01","v":2.05},{"s":"S","t":"Lc* Lt","d":"2021-03-01","v":1.95},{"s":"S","t":"Lc* Lt","d":"2021-04-01","v":1.9},{"s":"S","t":"Lc* Lt","d":"2021-05-01","v":1.6},{"s":"S","t":"Lc* Lt","d":"2021-06-01","v":1.3},{"s":"S","t":"Lc* Lt","d":"2021-07-01","v":1.05},{"s":"S","t":"Lc* Lt","d":"2021-08-15","v":0.93},{"s":"S","t":"Lc* Lt","d":"2021-10-01","v":0.9},{"s":"S","t":"Lc* Lt","d":"2021-11-15","v":0.87},{"s":"S","t":"Lc* Lt","d":"2022-01-01","v":0.85},{"s":"S","t":"Lc* Lt","d":"2022-02-10","v":0.86},{"s":"S","t":"Lc* Lt","d":"2022-03-20","v":0.92},

{"s":"SL","t":"0","d":"2020-11-28","v":2.35},{"s":"SL","t":"0","d":"2021-01-01","v":2.2},{"s":"SL","t":"0","d":"2021-02-01","v":2.12},{"s":"SL","t":"0","d":"2021-03-01","v":2.1},{"s":"SL","t":"0","d":"2021-04-01","v":1.95},{"s":"SL","t":"0","d":"2021-05-01","v":1.7},{"s":"SL","t":"0","d":"2021-06-01","v":1.4},{"s":"SL","t":"0","d":"2021-07-01","v":1.15},{"s":"SL","t":"0","d":"2021-08-15","v":0.92},{"s":"SL","t":"0","d":"2021-10-01","v":0.76},{"s":"SL","t":"0","d":"2021-11-15","v":0.73},{"s":"SL","t":"0","d":"2022-01-01","v":0.8},{"s":"SL","t":"0","d":"2022-02-10","v":0.88},{"s":"SL","t":"0","d":"2022-03-20","v":1.0},
{"s":"SL","t":"Lc","d":"2020-11-28","v":2.6},{"s":"SL","t":"Lc","d":"2021-01-01","v":2.35},{"s":"SL","t":"Lc","d":"2021-02-01","v":2.2},{"s":"SL","t":"Lc","d":"2021-03-01","v":2.1},{"s":"SL","t":"Lc","d":"2021-04-01","v":1.95},{"s":"SL","t":"Lc","d":"2021-05-01","v":1.65},{"s":"SL","t":"Lc","d":"2021-06-01","v":1.3},{"s":"SL","t":"Lc","d":"2021-07-01","v":1.02},{"s":"SL","t":"Lc","d":"2021-08-15","v":0.8},{"s":"SL","t":"Lc","d":"2021-10-01","v":0.68},{"s":"SL","t":"Lc","d":"2021-11-15","v":0.63},{"s":"SL","t":"Lc","d":"2022-01-01","v":0.62},{"s":"SL","t":"Lc","d":"2022-02-10","v":0.66},{"s":"SL","t":"Lc","d":"2022-03-20","v":0.78},
{"s":"SL","t":"Ac","d":"2020-11-28","v":2.7},{"s":"SL","t":"Ac","d":"2021-01-01","v":2.4},{"s":"SL","t":"Ac","d":"2021-02-01","v":2.25},{"s":"SL","t":"Ac","d":"2021-03-01","v":2.12},{"s":"SL","t":"Ac","d":"2021-04-01","v":1.95},{"s":"SL","t":"Ac","d":"2021-05-01","v":1.65},{"s":"SL","t":"Ac","d":"2021-06-01","v":1.3},{"s":"SL","t":"Ac","d":"2021-07-01","v":1.0},{"s":"SL","t":"Ac","d":"2021-08-15","v":0.8},{"s":"SL","t":"Ac","d":"2021-10-01","v":0.68},{"s":"SL","t":"Ac","d":"2021-11-15","v":0.63},{"s":"SL","t":"Ac","d":"2022-01-01","v":0.62},{"s":"SL","t":"Ac","d":"2022-02-10","v":0.63},{"s":"SL","t":"Ac","d":"2022-03-20","v":0.67},
{"s":"SL","t":"Lt","d":"2020-11-28","v":2.45},{"s":"SL","t":"Lt","d":"2021-01-01","v":2.35},{"s":"SL","t":"Lt","d":"2021-02-01","v":2.2},{"s":"SL","t":"Lt","d":"2021-03-01","v":2.1},{"s":"SL","t":"Lt","d":"2021-04-01","v":1.95},{"s":"SL","t":"Lt","d":"2021-05-01","v":1.7},{"s":"SL","t":"Lt","d":"2021-06-01","v":1.4},{"s":"SL","t":"Lt","d":"2021-07-01","v":1.15},{"s":"SL","t":"Lt","d":"2021-08-15","v":1.02},{"s":"SL","t":"Lt","d":"2021-10-01","v":0.95},{"s":"SL","t":"Lt","d":"2021-11-15","v":0.94},{"s":"SL","t":"Lt","d":"2022-01-01","v":0.95},{"s":"SL","t":"Lt","d":"2022-02-10","v":0.98},{"s":"SL","t":"Lt","d":"2022-03-20","v":1.02},
{"s":"SL","t":"Lc*Ac*Lt","d":"2020-11-28","v":2.75},{"s":"SL","t":"Lc*Ac*Lt","d":"2021-01-01","v":2.4},{"s":"SL","t":"Lc*Ac*Lt","d":"2021-02-01","v":2.2},{"s":"SL","t":"Lc*Ac*Lt","d":"2021-03-01","v":2.1},{"s":"SL","t":"Lc*Ac*Lt","d":"2021-04-01","v":1.95},{"s":"SL","t":"Lc*Ac*Lt","d":"2021-05-01","v":1.7},{"s":"SL","t":"Lc*Ac*Lt","d":"2021-06-01","v":1.4},{"s":"SL","t":"Lc*Ac*Lt","d":"2021-07-01","v":1.2},{"s":"SL","t":"Lc*Ac*Lt","d":"2021-08-15","v":1.07},{"s":"SL","t":"Lc*Ac*Lt","d":"2021-10-01","v":0.98},{"s":"SL","t":"Lc*Ac*Lt","d":"2021-11-15","v":0.95},{"s":"SL","t":"Lc*Ac*Lt","d":"2022-01-01","v":0.98},{"s":"SL","t":"Lc*Ac*Lt","d":"2022-02-10","v":1.08},{"s":"SL","t":"Lc*Ac*Lt","d":"2022-03-20","v":1.22},
{"s":"SL","t":"Lc*Ac","d":"2020-11-28","v":2.55},{"s":"SL","t":"Lc*Ac","d":"2021-01-01","v":2.3},{"s":"SL","t":"Lc*Ac","d":"2021-02-01","v":2.12},{"s":"SL","t":"Lc*Ac","d":"2021-03-01","v":2.15},{"s":"SL","t":"Lc*Ac","d":"2021-04-01","v":2.18},{"s":"SL","t":"Lc*Ac","d":"2021-05-01","v":1.95},{"s":"SL","t":"Lc*Ac","d":"2021-06-01","v":1.7},{"s":"SL","t":"Lc*Ac","d":"2021-07-01","v":1.45},{"s":"SL","t":"Lc*Ac","d":"2021-08-15","v":1.17},{"s":"SL","t":"Lc*Ac","d":"2021-10-01","v":0.95},{"s":"SL","t":"Lc*Ac","d":"2021-11-15","v":0.76},{"s":"SL","t":"Lc*Ac","d":"2022-01-01","v":0.6},{"s":"SL","t":"Lc*Ac","d":"2022-02-10","v":0.55},{"s":"SL","t":"Lc*Ac","d":"2022-03-20","v":0.51},
{"s":"SL","t":"Ac*Lt","d":"2020-11-28","v":3.1},{"s":"SL","t":"Ac*Lt","d":"2021-01-01","v":2.6},{"s":"SL","t":"Ac*Lt","d":"2021-02-01","v":2.3},{"s":"SL","t":"Ac*Lt","d":"2021-03-01","v":2.12},{"s":"SL","t":"Ac*Lt","d":"2021-04-01","v":1.9},{"s":"SL","t":"Ac*Lt","d":"2021-05-01","v":1.6},{"s":"SL","t":"Ac*Lt","d":"2021-06-01","v":1.3},{"s":"SL","t":"Ac*Lt","d":"2021-07-01","v":1.1},{"s":"SL","t":"Ac*Lt","d":"2021-08-15","v":0.97},{"s":"SL","t":"Ac*Lt","d":"2021-10-01","v":0.9},{"s":"SL","t":"Ac*Lt","d":"2021-11-15","v":0.88},{"s":"SL","t":"Ac*Lt","d":"2022-01-01","v":0.92},{"s":"SL","t":"Ac*Lt","d":"2022-02-10","v":1.02},{"s":"SL","t":"Ac*Lt","d":"2022-03-20","v":1.17},
{"s":"SL","t":"Lc* Lt","d":"2020-11-28","v":2.9},{"s":"SL","t":"Lc* Lt","d":"2021-01-01","v":2.5},{"s":"SL","t":"Lc* Lt","d":"2021-02-01","v":2.25},{"s":"SL","t":"Lc* Lt","d":"2021-03-01","v":2.1},{"s":"SL","t":"Lc* Lt","d":"2021-04-01","v":1.9},{"s":"SL","t":"Lc* Lt","d":"2021-05-01","v":1.65},{"s":"SL","t":"Lc* Lt","d":"2021-06-01","v":1.45},{"s":"SL","t":"Lc* Lt","d":"2021-07-01","v":1.3},{"s":"SL","t":"Lc* Lt","d":"2021-08-15","v":1.19},{"s":"SL","t":"Lc* Lt","d":"2021-10-01","v":1.08},{"s":"SL","t":"Lc* Lt","d":"2021-11-15","v":0.98},{"s":"SL","t":"Lc* Lt","d":"2022-01-01","v":0.89},{"s":"SL","t":"Lc* Lt","d":"2022-02-10","v":0.84},{"s":"SL","t":"Lc* Lt","d":"2022-03-20","v":0.78},

{"s":"L","t":"0","d":"2020-11-28","v":2.6},{"s":"L","t":"0","d":"2021-01-01","v":2.3},{"s":"L","t":"0","d":"2021-02-01","v":2.2},{"s":"L","t":"0","d":"2021-03-01","v":2.18},{"s":"L","t":"0","d":"2021-04-01","v":2.15},{"s":"L","t":"0","d":"2021-05-01","v":1.85},{"s":"L","t":"0","d":"2021-06-01","v":1.45},{"s":"L","t":"0","d":"2021-07-01","v":1.2},{"s":"L","t":"0","d":"2021-08-15","v":1.01},{"s":"L","t":"0","d":"2021-10-01","v":0.87},{"s":"L","t":"0","d":"2021-11-15","v":0.75},{"s":"L","t":"0","d":"2022-01-01","v":0.7},{"s":"L","t":"0","d":"2022-02-10","v":0.7},{"s":"L","t":"0","d":"2022-03-20","v":0.78},
{"s":"L","t":"Lc","d":"2020-11-28","v":2.5},{"s":"L","t":"Lc","d":"2021-01-01","v":2.25},{"s":"L","t":"Lc","d":"2021-02-01","v":2.05},{"s":"L","t":"Lc","d":"2021-03-01","v":1.95},{"s":"L","t":"Lc","d":"2021-04-01","v":1.9},{"s":"L","t":"Lc","d":"2021-05-01","v":1.7},{"s":"L","t":"Lc","d":"2021-06-01","v":1.45},{"s":"L","t":"Lc","d":"2021-07-01","v":1.2},{"s":"L","t":"Lc","d":"2021-08-15","v":0.99},{"s":"L","t":"Lc","d":"2021-10-01","v":0.82},{"s":"L","t":"Lc","d":"2021-11-15","v":0.69},{"s":"L","t":"Lc","d":"2022-01-01","v":0.6},{"s":"L","t":"Lc","d":"2022-02-10","v":0.56},{"s":"L","t":"Lc","d":"2022-03-20","v":0.54},
{"s":"L","t":"Ac","d":"2020-11-28","v":2.6},{"s":"L","t":"Ac","d":"2021-01-01","v":2.3},{"s":"L","t":"Ac","d":"2021-02-01","v":2.1},{"s":"L","t":"Ac","d":"2021-03-01","v":1.95},{"s":"L","t":"Ac","d":"2021-04-01","v":1.9},{"s":"L","t":"Ac","d":"2021-05-01","v":1.7},{"s":"L","t":"Ac","d":"2021-06-01","v":1.42},{"s":"L","t":"Ac","d":"2021-07-01","v":1.2},{"s":"L","t":"Ac","d":"2021-08-15","v":1.03},{"s":"L","t":"Ac","d":"2021-10-01","v":0.9},{"s":"L","t":"Ac","d":"2021-11-15","v":0.82},{"s":"L","t":"Ac","d":"2022-01-01","v":0.78},{"s":"L","t":"Ac","d":"2022-02-10","v":0.78},{"s":"L","t":"Ac","d":"2022-03-20","v":0.8},
{"s":"L","t":"Lt","d":"2020-11-28","v":2.8},{"s":"L","t":"Lt","d":"2021-01-01","v":2.2},{"s":"L","t":"Lt","d":"2021-02-01","v":1.85},{"s":"L","t":"Lt","d":"2021-03-01","v":1.85},{"s":"L","t":"Lt","d":"2021-04-01","v":1.95},{"s":"L","t":"Lt","d":"2021-05-01","v":1.8},{"s":"L","t":"Lt","d":"2021-06-01","v":1.55},{"s":"L","t":"Lt","d":"2021-07-01","v":1.42},{"s":"L","t":"Lt","d":"2021-08-15","v":1.27},{"s":"L","t":"Lt","d":"2021-10-01","v":1.1},{"s":"L","t":"Lt","d":"2021-11-15","v":0.96},{"s":"L","t":"Lt","d":"2022-01-01","v":0.86},{"s":"L","t":"Lt","d":"2022-02-10","v":0.88},{"s":"L","t":"Lt","d":"2022-03-20","v":1.01},
{"s":"L","t":"Lc*Ac*Lt","d":"2020-11-28","v":2.5},{"s":"L","t":"Lc*Ac*Lt","d":"2021-01-01","v":2.3},{"s":"L","t":"Lc*Ac*Lt","d":"2021-02-01","v":2.15},{"s":"L","t":"Lc*Ac*Lt","d":"2021-03-01","v":2.05},{"s":"L","t":"Lc*Ac*Lt","d":"2021-04-01","v":2.0},{"s":"L","t":"Lc*Ac*Lt","d":"2021-05-01","v":1.8},{"s":"L","t":"Lc*Ac*Lt","d":"2021-06-01","v":1.55},{"s":"L","t":"Lc*Ac*Lt","d":"2021-07-01","v":1.38},{"s":"L","t":"Lc*Ac*Lt","d":"2021-08-15","v":1.21},{"s":"L","t":"Lc*Ac*Lt","d":"2021-10-01","v":1.07},{"s":"L","t":"Lc*Ac*Lt","d":"2021-11-15","v":0.95},{"s":"L","t":"Lc*Ac*Lt","d":"2022-01-01","v":0.86},{"s":"L","t":"Lc*Ac*Lt","d":"2022-02-10","v":0.82},{"s":"L","t":"Lc*Ac*Lt","d":"2022-03-20","v":0.72},
{"s":"L","t":"Lc*Ac","d":"2020-11-28","v":2.4},{"s":"L","t":"Lc*Ac","d":"2021-01-01","v":2.15},{"s":"L","t":"Lc*Ac","d":"2021-02-01","v":2.0},{"s":"L","t":"Lc*Ac","d":"2021-03-01","v":1.9},{"s":"L","t":"Lc*Ac","d":"2021-04-01","v":1.85},{"s":"L","t":"Lc*Ac","d":"2021-05-01","v":1.6},{"s":"L","t":"Lc*Ac","d":"2021-06-01","v":1.3},{"s":"L","t":"Lc*Ac","d":"2021-07-01","v":1.1},{"s":"L","t":"Lc*Ac","d":"2021-08-15","v":1.0},{"s":"L","t":"Lc*Ac","d":"2021-10-01","v":0.92},{"s":"L","t":"Lc*Ac","d":"2021-11-15","v":0.86},{"s":"L","t":"Lc*Ac","d":"2022-01-01","v":0.8},{"s":"L","t":"Lc*Ac","d":"2022-02-10","v":0.76},{"s":"L","t":"Lc*Ac","d":"2022-03-20","v":0.7},
{"s":"L","t":"Ac*Lt","d":"2020-11-28","v":2.7},{"s":"L","t":"Ac*Lt","d":"2021-01-01","v":2.35},{"s":"L","t":"Ac*Lt","d":"2021-02-01","v":2.1},{"s":"L","t":"Ac*Lt","d":"2021-03-01","v":1.9},{"s":"L","t":"Ac*Lt","d":"2021-04-01","v":1.8},{"s":"L","t":"Ac*Lt","d":"2021-05-01","v":1.55},{"s":"L","t":"Ac*Lt","d":"2021-06-01","v":1.3},{"s":"L","t":"Ac*Lt","d":"2021-07-01","v":1.23},{"s":"L","t":"Ac*Lt","d":"2021-08-15","v":1.13},{"s":"L","t":"Ac*Lt","d":"2021-10-01","v":1.0},{"s":"L","t":"Ac*Lt","d":"2021-11-15","v":0.88},{"s":"L","t":"Ac*Lt","d":"2022-01-01","v":0.77},{"s":"L","t":"Ac*Lt","d":"2022-02-10","v":0.72},{"s":"L","t":"Ac*Lt","d":"2022-03-20","v":0.64},
{"s":"L","t":"Lc* Lt","d":"2020-11-28","v":3.0},{"s":"L","t":"Lc* Lt","d":"2021-01-01","v":2.5},{"s":"L","t":"Lc* Lt","d":"2021-02-01","v":2.2},{"s":"L","t":"Lc* Lt","d":"2021-03-01","v":1.95},{"s":"L","t":"Lc* Lt","d":"2021-04-01","v":1.8},{"s":"L","t":"Lc* Lt","d":"2021-05-01","v":1.55},{"s":"L","t":"Lc* Lt","d":"2021-06-01","v":1.25},{"s":"L","t":"Lc* Lt","d":"2021-07-01","v":1.04},{"s":"L","t":"Lc* Lt","d":"2021-08-15","v":0.97},{"s":"L","t":"Lc* Lt","d":"2021-10-01","v":0.9},{"s":"L","t":"Lc* Lt","d":"2021-11-15","v":0.83},{"s":"L","t":"Lc* Lt","d":"2022-01-01","v":0.8},{"s":"L","t":"Lc* Lt","d":"2022-02-10","v":0.82},{"s":"L","t":"Lc* Lt","d":"2022-03-20","v":0.84}
]
},
"spacing":0,
"hconcat":[
{"spacing":0,"bounds":"flush","vconcat":[
 {"width":347,"height":45,"view":{"stroke":"black","strokeWidth":3.5},"data":{"values":[{"lab":"Sandy"}]},"mark":{"type":"text","font":"Liberation Serif","fontWeight":"bold","fontSize":23,"color":"black","align":"center","baseline":"middle"},"encoding":{"text":{"field":"lab"}}},
 {"width":344,"height":538,"layer":[
  {"data":{"name":"pts"},"transform":[{"filter":"datum.s=='S' && indexof(['0','Lc','Ac'],datum.t)>=0"}],"mark":{"type":"point","filled":true,"size":30,"opacity":0.85},
   "encoding":{"x":{"field":"d","type":"temporal","scale":{"domain":[{"year":2020,"month":11,"date":4},{"year":2022,"month":4,"date":13}]},"axis":{"values":[{"year":2021,"month":1,"date":1},{"year":2021,"month":7,"date":1},{"year":2022,"month":1,"date":1}],"format":"%Y-%m","title":null}},
   "y":{"field":"v","type":"quantitative","scale":{"domain":[-0.24,5],"nice":false,"zero":false},"axis":{"values":[0,1,2,3,4,5],"format":"d","labelExpr":"datum.value==0||datum.value==5?datum.label:''","title":"CO2 emission (µmol/m2.s)","titleY":240}},
   "color":{"field":"t","type":"nominal","scale":{"domain":["0","Lc","Ac","Lt","Lc*Ac*Lt","Lc*Ac","Ac*Lt","Lc* Lt"],"range":["#F8766D","#CD9600","#7CAE00","#00BE67","#00BFC4","#00A9FF","#C77CFF","#FF61CC"]},"legend":{"title":null}},
   "shape":{"field":"t","type":"nominal","scale":{"domain":["0","Lc","Ac","Lt","Lc*Ac*Lt","Lc*Ac"],"range":["circle","triangle-up","square","M-1,0H1M0,-1V1","M-0.8,-0.8H0.8V0.8H-0.8ZM-0.8,-0.8L0.8,0.8M0.8,-0.8L-0.8,0.8","M-1,0H1M0,-1V1M-0.7,-0.7L0.7,0.7M0.7,-0.7L-0.7,0.7"]},"legend":null}}},
  {"data":{"name":"pts"},"transform":[{"filter":"datum.s=='S' && indexof(['Lt','Lc*Ac*Lt','Lc*Ac'],datum.t)>=0"}],"mark":{"type":"point","filled":false,"size":60,"strokeWidth":1.3,"opacity":0.85},
   "encoding":{"x":{"field":"d","type":"temporal"},"y":{"field":"v","type":"quantitative"},
   "color":{"field":"t","type":"nominal","legend":{"title":null}},
   "shape":{"field":"t","type":"nominal","legend":null}}},
  {"data":{"name":"fit"},"transform":[{"filter":"datum.s=='S'"}],"mark":{"type":"line","strokeWidth":2.8,"interpolate":"monotone"},
   "encoding":{"x":{"field":"d","type":"temporal"},"y":{"field":"v","type":"quantitative"},
   "color":{"field":"t","type":"nominal","legend":{"title":null}}}}
 ]}
]},
{"spacing":0,"bounds":"flush","vconcat":[
 {"width":347,"height":45,"view":{"stroke":"black","strokeWidth":3.5},"data":{"values":[{"lab":"Sandy loam"}]},"mark":{"type":"text","font":"Liberation Serif","fontWeight":"bold","fontSize":23,"color":"black","align":"center","baseline":"middle"},"encoding":{"text":{"field":"lab"}}},
 {"width":344,"height":538,"layer":[
  {"data":{"name":"pts"},"transform":[{"filter":"datum.s=='SL' && indexof(['0','Lc','Ac'],datum.t)>=0"}],"mark":{"type":"point","filled":true,"size":30,"opacity":0.85},
   "encoding":{"x":{"field":"d","type":"temporal","scale":{"domain":[{"year":2020,"month":11,"date":4},{"year":2022,"month":4,"date":13}]},"axis":{"values":[{"year":2021,"month":1,"date":1},{"year":2021,"month":7,"date":1},{"year":2022,"month":1,"date":1}],"format":"%Y-%m","title":"Date"}},
   "y":{"field":"v","type":"quantitative","scale":{"domain":[-0.24,5],"nice":false,"zero":false},"axis":null},
   "color":{"field":"t","type":"nominal","scale":{"domain":["0","Lc","Ac","Lt","Lc*Ac*Lt","Lc*Ac","Ac*Lt","Lc* Lt"],"range":["#F8766D","#CD9600","#7CAE00","#00BE67","#00BFC4","#00A9FF","#C77CFF","#FF61CC"]},"legend":{"title":null}},
   "shape":{"field":"t","type":"nominal","scale":{"domain":["0","Lc","Ac","Lt","Lc*Ac*Lt","Lc*Ac"],"range":["circle","triangle-up","square","M-1,0H1M0,-1V1","M-0.8,-0.8H0.8V0.8H-0.8ZM-0.8,-0.8L0.8,0.8M0.8,-0.8L-0.8,0.8","M-1,0H1M0,-1V1M-0.7,-0.7L0.7,0.7M0.7,-0.7L-0.7,0.7"]},"legend":null}}},
  {"data":{"name":"pts"},"transform":[{"filter":"datum.s=='SL' && indexof(['Lt','Lc*Ac*Lt','Lc*Ac'],datum.t)>=0"}],"mark":{"type":"point","filled":false,"size":60,"strokeWidth":1.3,"opacity":0.85},
   "encoding":{"x":{"field":"d","type":"temporal"},"y":{"field":"v","type":"quantitative"},
   "color":{"field":"t","type":"nominal","legend":{"title":null}},
   "shape":{"field":"t","type":"nominal","legend":null}}},
  {"data":{"name":"fit"},"transform":[{"filter":"datum.s=='SL'"}],"mark":{"type":"line","strokeWidth":2.8,"interpolate":"monotone"},
   "encoding":{"x":{"field":"d","type":"temporal"},"y":{"field":"v","type":"quantitative"},
   "color":{"field":"t","type":"nominal","legend":{"title":null}}}}
 ]}
]},
{"spacing":0,"bounds":"flush","vconcat":[
 {"width":347,"height":45,"view":{"stroke":"black","strokeWidth":3.5},"data":{"values":[{"lab":"Loamy"}]},"mark":{"type":"text","font":"Liberation Serif","fontWeight":"bold","fontSize":23,"color":"black","align":"center","baseline":"middle"},"encoding":{"text":{"field":"lab"}}},
 {"width":344,"height":538,"layer":[
  {"data":{"name":"pts"},"transform":[{"filter":"datum.s=='L' && indexof(['0','Lc','Ac'],datum.t)>=0"}],"mark":{"type":"point","filled":true,"size":30,"opacity":0.85},
   "encoding":{"x":{"field":"d","type":"temporal","scale":{"domain":[{"year":2020,"month":11,"date":4},{"year":2022,"month":4,"date":13}]},"axis":{"values":[{"year":2021,"month":1,"date":1},{"year":2021,"month":7,"date":1},{"year":2022,"month":1,"date":1}],"format":"%Y-%m","title":null}},
   "y":{"field":"v","type":"quantitative","scale":{"domain":[-0.24,5],"nice":false,"zero":false},"axis":null},
   "color":{"field":"t","type":"nominal","scale":{"domain":["0","Lc","Ac","Lt","Lc*Ac*Lt","Lc*Ac","Ac*Lt","Lc* Lt"],"range":["#F8766D","#CD9600","#7CAE00","#00BE67","#00BFC4","#00A9FF","#C77CFF","#FF61CC"]},"legend":{"title":null}},
   "shape":{"field":"t","type":"nominal","scale":{"domain":["0","Lc","Ac","Lt","Lc*Ac*Lt","Lc*Ac"],"range":["circle","triangle-up","square","M-1,0H1M0,-1V1","M-0.8,-0.8H0.8V0.8H-0.8ZM-0.8,-0.8L0.8,0.8M0.8,-0.8L-0.8,0.8","M-1,0H1M0,-1V1M-0.7,-0.7L0.7,0.7M0.7,-0.7L-0.7,0.7"]},"legend":null}}},
  {"data":{"name":"pts"},"transform":[{"filter":"datum.s=='L' && indexof(['Lt','Lc*Ac*Lt','Lc*Ac'],datum.t)>=0"}],"mark":{"type":"point","filled":false,"size":60,"strokeWidth":1.3,"opacity":0.85},
   "encoding":{"x":{"field":"d","type":"temporal"},"y":{"field":"v","type":"quantitative"},
   "color":{"field":"t","type":"nominal","legend":{"title":null}},
   "shape":{"field":"t","type":"nominal","legend":null}}},
  {"data":{"name":"fit"},"transform":[{"filter":"datum.s=='L'"}],"mark":{"type":"line","strokeWidth":2.8,"interpolate":"monotone"},
   "encoding":{"x":{"field":"d","type":"temporal"},"y":{"field":"v","type":"quantitative"},
   "color":{"field":"t","type":"nominal","legend":{"title":null}}}}
 ]}
]}
],
"config":{
 "font":"Liberation Sans",
 "view":{"stroke":null},
 "axis":{"grid":false,"domainColor":"#444","domainWidth":1.4,"tickColor":"#555","tickSize":4,"tickWidth":1,"labelColor":"#666","labelFont":"Liberation Sans","labelFontSize":12,"labelPadding":3,"titleFont":"Liberation Sans","titleFontWeight":"bold","titleFontStyle":"italic","titleColor":"#111"},
 "axisY":{"titleFontSize":20,"titlePadding":2},
 "axisX":{"titleFontSize":15,"titlePadding":3},
 "legend":{"orient":"none","legendX":1058,"legendY":66,"padding":0,"symbolType":"stroke","symbolStrokeWidth":3.5,"symbolSize":1100,"symbolOpacity":1,"symbolFillColor":"transparent","labelFont":"Liberation Sans","labelFontStyle":"italic","labelFontSize":17,"labelColor":"#1a1a1a","rowPadding":13.6,"labelOffset":22}
}
}
